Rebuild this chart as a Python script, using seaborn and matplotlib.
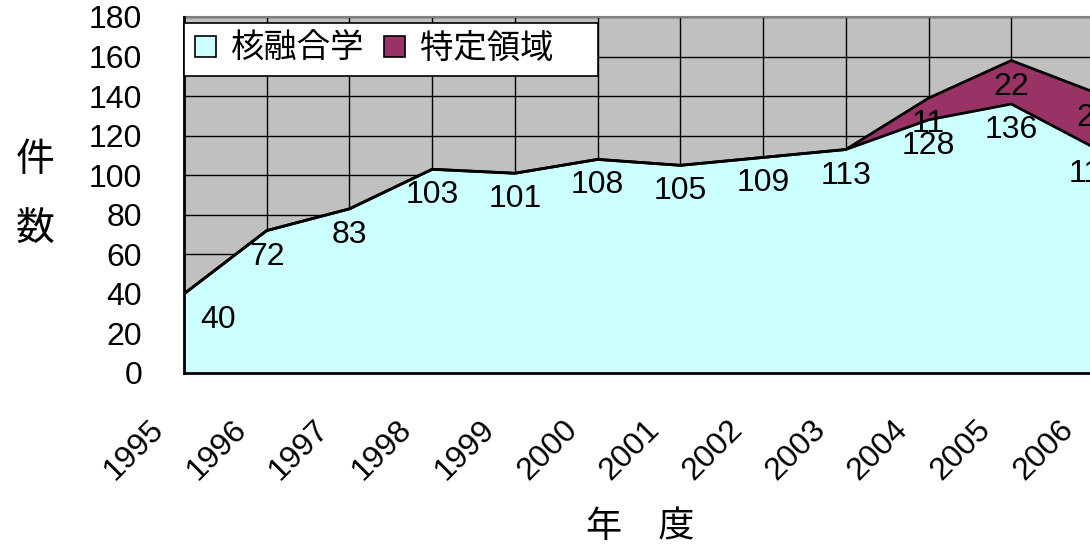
import matplotlib
matplotlib.use("Agg")
import matplotlib.pyplot as plt
import matplotlib.transforms as mtransforms
from matplotlib.patches import Patch
import seaborn as sns
import pandas as pd

years = [1995, 1996, 1997, 1998, 1999, 2000, 2001, 2002, 2003, 2004, 2005, 2006]
year_labels = [str(y) for y in years]
kakuyugo = [40, 72, 83, 103, 101, 108, 105, 109, 113, 128, 136, 114]
tokutei = [0, 0, 0, 0, 0, 0, 0, 0, 0, 11, 22, 28]
series_names = ["核融合学", "特定領域"]
y_ticks = [0, 20, 40, 60, 80, 100, 120, 140, 160, 180]

sns.set_style("white")
plt.rcParams['font.family'] = ['Liberation Sans', 'Noto Sans CJK JP']
for k in ['text.color', 'axes.labelcolor', 'xtick.color', 'ytick.color']:
    plt.rcParams[k] = 'black'

df = pd.DataFrame({"year": years, "kaku": kakuyugo, "toku": tokutei})
df["top"] = df["kaku"] + df["toku"]

W, H = 1090, 545
fig = plt.figure(figsize=(W / 100, H / 100), dpi=100)
ax = fig.add_axes([184 / W, (H - 373) / H, 910 / W, 356 / H])
ax.set_facecolor('#C0C0C0')

c1, c2 = '#CCFFFF', '#993366'
ax.fill_between(df["year"], 0, df["kaku"], color=c1, zorder=2, lw=0)
ax.fill_between(df["year"], df["kaku"], df["top"], color=c2, zorder=2, lw=0)
sns.lineplot(data=df, x="year", y="top", color='black', lw=2, ax=ax, zorder=3)
sns.lineplot(data=df, x="year", y="kaku", color='black', lw=2, ax=ax, zorder=3)

ax.set_xlim(years[0], years[-1])
ax.set_ylim(0, 180)
ax.set_yticks(y_ticks)
ax.set_xticks(years)
ax.set_xticklabels(year_labels, rotation=45, ha='right', va='center', rotation_mode='anchor')
ax.grid(True, color='black', lw=1, zorder=0)
ax.set_axisbelow(True)

ax.tick_params(axis='x', direction='in', length=9, color='#808080', width=1.5, pad=0,
               labelsize=23, labelcolor='black')
ax.tick_params(axis='y', direction='in', length=6, color='#808080', width=1.5, pad=30,
               labelsize=23, labelcolor='black')
off = mtransforms.ScaledTranslation(-25 / 100, -52 / 100, fig.dpi_scale_trans)
for lab in ax.get_xticklabels():
    lab.set_transform(lab.get_transform() + off)

for side in ['left', 'bottom']:
    ax.spines[side].set_color('black')
    ax.spines[side].set_linewidth(2)
    ax.spines[side].set_zorder(4)
ax.spines['top'].set_color('#808080')
ax.spines['top'].set_linewidth(1.5)
ax.spines['right'].set_color('#808080')

# data labels
for i, (x, v) in enumerate(zip(df["year"], df["kaku"])):
    dx = 34 if i == 0 else 0
    ax.annotate(str(v), (x, v), xytext=(dx, -26), textcoords='offset pixels',
                ha='center', va='center', fontsize=23, color='black', zorder=5)
for x, v, t in zip(df["year"], df["toku"], df["top"]):
    if v > 0:
        ax.annotate(str(v), (x, t), xytext=(0, -26), textcoords='offset pixels',
                    ha='center', va='center', fontsize=23, color='black', zorder=5)

ax.set_xlabel("年　度", fontsize=26)
ax.xaxis.set_label_coords((640 - 184) / 910, (373 - 528) / 356)
ax.xaxis.label.set_va('center')
ax.set_ylabel("件\n\n数", fontsize=28, rotation=0, ha='center', va='center', linespacing=0.95)
ax.yaxis.set_label_coords((35 - 184) / 910, (373 - 196) / 356)

handles = [Patch(facecolor=c1, edgecolor='black', lw=1.2),
           Patch(facecolor=c2, edgecolor='black', lw=1.2)]
labels = [series_names[0], series_names[1] + "\u3000"]
leg = ax.legend(handles, labels, loc='upper left', ncol=2,
                bbox_to_anchor=(0, 1 - 6 / 356), fontsize=24, frameon=True, fancybox=False,
                framealpha=1, edgecolor='black', handlelength=0.62, handleheight=0.62,
                handletextpad=0.45, columnspacing=0.6, borderpad=0.33, borderaxespad=0)
leg.get_frame().set_linewidth(1.2)
leg.set_zorder(6)

fig.savefig("out.png", dpi=100)
